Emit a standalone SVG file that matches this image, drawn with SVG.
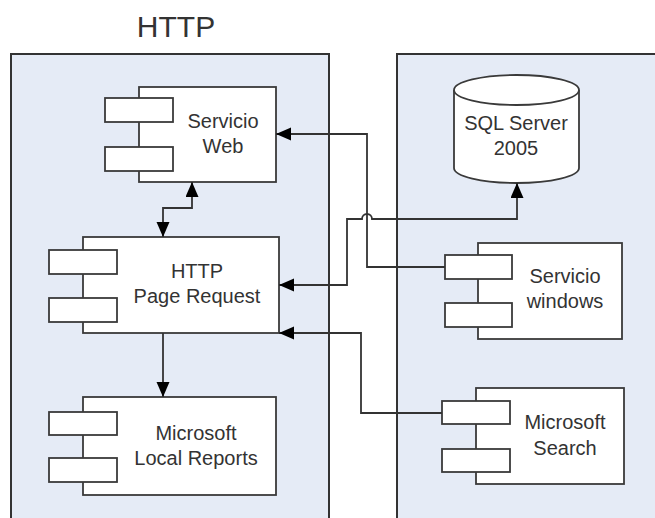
<svg xmlns="http://www.w3.org/2000/svg" width="655" height="518" viewBox="0 0 655 518">
<style>
.panel{fill:#e5ebf6;stroke:#333;stroke-width:2}
.box{fill:#fff;stroke:#3a3a3a;stroke-width:1.8}
.conn{fill:none;stroke:#333;stroke-width:1.8}
text{font-family:"Liberation Sans",Arial,sans-serif;font-size:20px;fill:#333;text-anchor:middle}
.title{font-size:30px}
</style>
<defs>
<marker id="arr" markerUnits="userSpaceOnUse" markerWidth="16" markerHeight="14" refX="15" refY="6.5" orient="auto-start-reverse">
<path d="M0,0 L15,6.5 L0,13 z" fill="#000"/>
</marker>
</defs>
<rect fill="#fff" width="655" height="518"/>
<text class="title" x="176" y="37">HTTP</text>
<g id="panel-left"><rect class="panel" x="11" y="54" width="318" height="480"/></g>
<g id="panel-right"><rect class="panel" x="397" y="54" width="280" height="480"/></g>

<g id="servicio-web">
<rect class="box" x="139" y="87" width="137" height="95"/>
<rect class="box" x="105" y="98" width="68" height="24"/>
<rect class="box" x="105" y="147" width="68" height="24"/>
<text x="223" y="128">Servicio</text>
<text x="223" y="153">Web</text>
</g>
<g id="http-page-request">
<rect class="box" x="83" y="237" width="196" height="96"/>
<rect class="box" x="49" y="250" width="68" height="24"/>
<rect class="box" x="49" y="298" width="68" height="24"/>
<text x="197" y="278">HTTP</text>
<text x="197" y="303">Page Request</text>
</g>
<g id="local-reports">
<rect class="box" x="83" y="397" width="193" height="98"/>
<rect class="box" x="49" y="412" width="68" height="23"/>
<rect class="box" x="49" y="458" width="68" height="24"/>
<text x="196" y="440">Microsoft</text>
<text x="196" y="465">Local Reports</text>
</g>
<g id="sql-server">
<path class="box" d="M454,90 A62.5,15 0 0 1 579,90 V168 A62.5,15 0 0 1 454,168 Z"/>
<path class="box" d="M454,90 A62.5,15 0 0 0 579,90" fill="none"/>
<text x="516" y="130">SQL Server</text>
<text x="516" y="155">2005</text>
</g>
<g id="servicio-windows">
<rect class="box" x="478" y="243" width="144" height="96"/>
<rect class="box" x="445" y="255" width="67" height="24"/>
<rect class="box" x="445" y="303" width="67" height="24"/>
<text x="565" y="283">Servicio</text>
<text x="565" y="308">windows</text>
</g>
<g id="microsoft-search">
<rect class="box" x="476" y="388" width="148" height="96"/>
<rect class="box" x="442" y="401" width="68" height="23"/>
<rect class="box" x="442" y="449" width="68" height="23"/>
<text x="565" y="429">Microsoft</text>
<text x="565" y="455">Search</text>
</g>

<g id="connectors">
<path class="conn" d="M163,237 V208 H192 V182" marker-start="url(#arr)" marker-end="url(#arr)"/>
<path class="conn" d="M279,285 H347 V219 H362 A5,5 0 0 1 372,219 H517 V183" marker-start="url(#arr)" marker-end="url(#arr)"/>
<path class="conn" d="M445,267 H367 V134 H276" marker-end="url(#arr)"/>
<path class="conn" d="M442,413 H361 V333 H279" marker-end="url(#arr)"/>
<path class="conn" d="M163,333 V397" marker-end="url(#arr)"/>
</g>
</svg>
